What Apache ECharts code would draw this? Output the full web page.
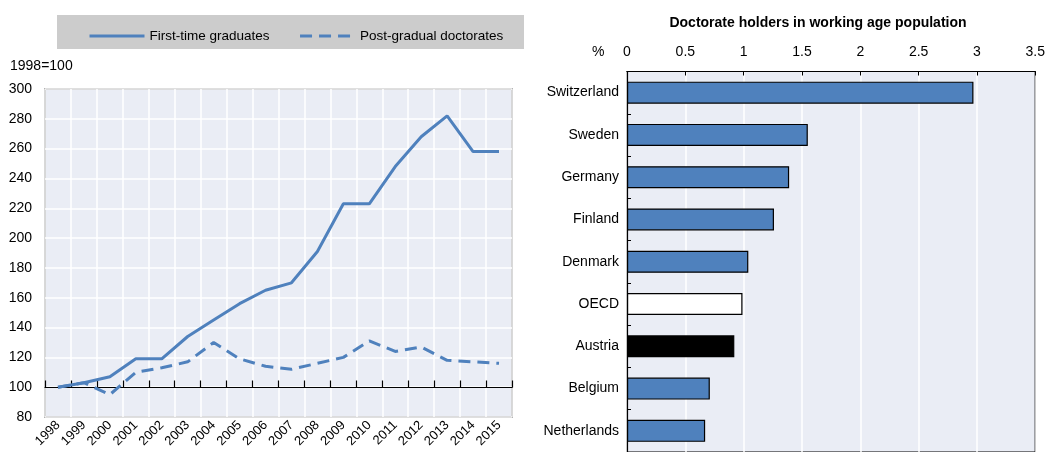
<!DOCTYPE html>
<html><head><meta charset="utf-8">
<script src="https://cdn.jsdelivr.net/npm/echarts@6/dist/echarts.min.js"></script>
<style>html,body{margin:0;padding:0;background:#fff}#c{width:1048px;height:452px}</style>
</head><body><div id="c"></div>
<script>
// ---- data ----
const years = ['1998','1999','2000','2001','2002','2003','2004','2005','2006','2007','2008','2009','2010','2011','2012','2013','2014','2015'];
const firstTimeGraduates = [100,103,107,119,119,134,145,156,165,170,191,223,223,248,268,282,258,258];
const postGradualDoctorates = [100,103,95,110,113,117,130,119,114,112,116,120,131,124,127,118,117,116];
const countries = ['Switzerland','Sweden','Germany','Finland','Denmark','OECD','Austria','Belgium','Netherlands'];
const doctorateHolders = [2.97,1.55,1.39,1.26,1.04,0.99,0.92,0.71,0.67];
const lineAxis = {min: 80, max: 300, interval: 20};
const barAxis = {min: 0, max: 3.5, interval: 0.5};

// ---- styles ----
const FONT = '"Liberation Sans", Arial, sans-serif';
const BLUE = '#4F81BD';
const BG = '#EAEDF5';
const special = {OECD: '#FFFFFF', Austria: '#000000'};

const chart = echarts.init(document.getElementById('c'), null, {renderer: 'canvas'});
chart.setOption({
  animation: false,
  textStyle: {fontFamily: FONT, color: '#000'},
  title: {
    text: 'Doctorate holders in working age population',
    left: 813, top: 11, textAlign: 'center',
    textStyle: {fontFamily: FONT, fontSize: 14, fontWeight: 'bold', color: '#000'}
  },
  graphic: [
    {type: 'rect', shape: {x: 57, y: 15, width: 467, height: 34}, style: {fill: '#CCCCCC'}, z: -1},
    {type: 'text', left: 10, top: 59, style: {text: '1998=100', font: '14px ' + FONT, fill: '#000'}},
    {type: 'text', left: 592, top: 45, style: {text: '%', font: '14px ' + FONT, fill: '#000'}}
  ],
  legend: {
    left: 88, top: 29, padding: 0,
    itemWidth: 55, itemHeight: 6, itemGap: 29,
    itemStyle: {opacity: 0},
    lineStyle: {width: 3},
    textStyle: {fontFamily: FONT, fontSize: 13.5, color: '#000'},
    data: ['First-time graduates', 'Post-gradual doctorates']
  },
  grid: [
    {left: 45, right: 536, top: 89, bottom: 35, show: true, backgroundColor: BG, borderColor: '#000', borderWidth: 1.2},
    {left: 45, right: 536, top: 89, bottom: 452 - 387.5, show: false},
    {left: 627, right: 11, top: 71.5, bottom: -1.5, show: true, backgroundColor: BG, borderColor: '#000', borderWidth: 1.2}
  ],
  xAxis: [
    {
      gridIndex: 0, type: 'category', data: years, boundaryGap: true,
      axisLine: {show: false}, axisTick: {show: false},
      splitLine: {show: true, lineStyle: {color: '#FFFFFF', width: 1.5}},
      axisLabel: {rotate: 45, fontSize: 13, color: '#000', margin: 6, interval: 0}
    },
    {
      gridIndex: 1, type: 'category', data: years, boundaryGap: true,
      axisLine: {show: true, lineStyle: {color: '#000', width: 1.2}},
      axisTick: {show: true, inside: true, length: 7, interval: 0, lineStyle: {color: '#000', width: 1.2}},
      axisLabel: {show: false}, splitLine: {show: false}
    },
    {
      gridIndex: 2, type: 'value', position: 'top',
      min: barAxis.min, max: barAxis.max, interval: barAxis.interval,
      axisLine: {show: true, lineStyle: {color: '#000', width: 1.2}},
      axisTick: {show: true, inside: true, length: 4, lineStyle: {color: '#000'}},
      splitLine: {show: true, lineStyle: {color: '#FFFFFF', width: 1.5}},
      axisLabel: {fontSize: 14, color: '#000', margin: 12}
    }
  ],
  yAxis: [
    {
      gridIndex: 0, type: 'value', min: lineAxis.min, max: lineAxis.max, interval: lineAxis.interval,
      axisLine: {show: false}, axisTick: {show: false},
      splitLine: {show: true, lineStyle: {color: '#FFFFFF', width: 1.5}},
      axisLabel: {fontSize: 14, color: '#000', margin: 13}
    },
    {gridIndex: 1, type: 'value', min: 0, max: 1, show: false},
    {
      gridIndex: 2, type: 'category', data: countries, inverse: true,
      axisLine: {show: true, lineStyle: {color: '#000', width: 1.2}},
      axisTick: {show: true, inside: true, length: 4, lineStyle: {color: '#000'}},
      axisLabel: {fontSize: 14, color: '#000', margin: 8},
      splitLine: {show: false}
    }
  ],
  series: [
    {
      name: 'First-time graduates', type: 'line', xAxisIndex: 0, yAxisIndex: 0,
      data: firstTimeGraduates, symbol: 'none',
      lineStyle: {color: BLUE, width: 3}, itemStyle: {color: BLUE}
    },
    {
      name: 'Post-gradual doctorates', type: 'line', xAxisIndex: 0, yAxisIndex: 0,
      data: postGradualDoctorates, symbol: 'none',
      lineStyle: {color: BLUE, width: 3, type: [12, 7]}, itemStyle: {color: BLUE}
    },
    {
      name: 'Doctorate holders', type: 'bar', xAxisIndex: 2, yAxisIndex: 2,
      barWidth: 22,
      data: doctorateHolders.map((v, i) => ({
        value: v,
        itemStyle: {color: special[countries[i]] || BLUE}
      })),
      itemStyle: {borderColor: '#000', borderWidth: 1.2}
    }
  ]
});
</script></body></html>
